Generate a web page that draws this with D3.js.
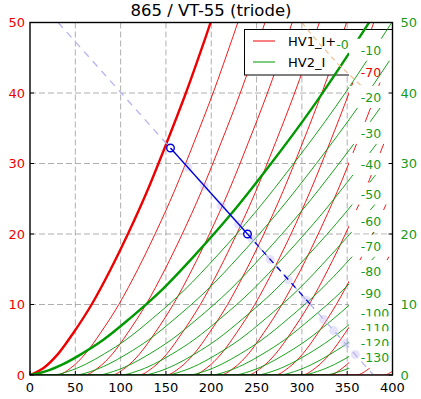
<!DOCTYPE html>
<html><head><meta charset="utf-8">
<script src="https://cdn.jsdelivr.net/npm/d3@7"></script>
<style>body{margin:0;background:#fff}svg{display:block;font-family:"DejaVu Sans",sans-serif}</style>
</head><body><svg id="c" width="421" height="399"></svg>
<script>
const title = "865 / VT-55 (triode)";
const xTicks = [0,50,100,150,200,250,300,350,400];
const yTicks = [0,10,20,30,40,50];
const legendNames = ["HV1_I+","HV2_I"];

// red family (HV1): plate voltage at each current level, one row per grid voltage
const redLevels = [0,1,3,6,10,15,20,26,33,40,48,56];
const redGrid = [0,-10,-20,-30,-40,-50,-60,-70,-80,-90,-100,-110,-120,-130];
const redV = [
  [0,15,31,48,68,89,108,129,151,172,194,215],
  [30,45,61,78,98,119,138,159,181,202,224,245],
  [60,75,91,108,128,149,168,189,211,232,254,275],
  [90,105,121,138,158,179,198,219,241,262,284,305],
  [120,135,151,168,188,209,228,249,271,292,314,335],
  [150,165,181,198,218,239,258,279,301,322,344,365],
  [180,195,211,228,248,269,288,309,331,352,374,395],
  [210,225,241,258,278,299,318,339,361,382,404,425],
  [240,255,271,288,308,329,348,369,391,412,434,455],
  [270,285,301,318,338,359,378,399,421,442,464,485],
  [300,315,331,348,368,389,408,429,451,472,494,515],
  [330,345,361,378,398,419,438,459,481,502,524,545],
  [360,375,391,408,428,449,468,489,511,532,554,575],
  [390,405,421,438,458,479,498,519,541,562,584,605]
];

// green family (HV2)
const greenLevels = [0,0.5,1.5,3,5,8,12,17,23,30,38,47,56];
const greenGrid = [0,-10,-20,-30,-40,-50,-60,-70,-80,-90,-100,-110,-120,-130];
const greenV = [
  [0,17,36,57,81,110,145,182,223,266,312,359,404],
  [25,42,61,82,106,135,170,207,248,291,337,384,429],
  [50,67,86,107,131,160,195,232,273,316,362,409,454],
  [75,92,111,132,156,185,220,257,298,341,387,434,479],
  [100,117,136,157,181,210,245,282,323,366,412,459,504],
  [125,142,161,182,206,235,270,307,348,391,437,484,529],
  [150,167,186,207,231,260,295,332,373,416,462,509,554],
  [175,192,211,232,256,285,320,357,398,441,487,534,579],
  [200,217,236,257,281,310,345,382,423,466,512,559,604],
  [225,242,261,282,306,335,370,407,448,491,537,584,629],
  [250,267,286,307,331,360,395,432,473,516,562,609,654],
  [275,292,311,332,356,385,420,457,498,541,587,634,679],
  [300,317,336,357,381,410,445,482,523,566,612,659,704],
  [325,342,361,382,406,435,470,507,548,591,637,684,729]
];

const greenLabels = ["-0","-10","-20","-30","-40","-50","-60","-70","-80","-90","-100","-110","-120","-130"];
const greenLabelV = [338,365,365,365,365,365,365,365,365,365,365,365,365,365];
const greenLabelI = [46.9,46.0,39.3,34.2,29.8,25.6,21.7,18.2,14.6,11.5,8.7,6.6,4.5,2.4];
const redLabels = ["-70"];
const redLabelV = [365];
const redLabelI = [42.9];

const loadSolid = [[155,32.2],[240,20]];
const loadDashed = [[240,20],[313,9.5]];
const loadGuide = [[31,50],[379,0]];
const guideMarks = [[174,29.5],[192,26.8],[211,24.0],[230,21.4],[245,19.3],[265,16.4],[285,13.5],[305,10.6],[324,7.9],[335,6.3],[348,4.5],[359,2.9]];
const dissipation = [[300,50],[310,48.4],[320,46.9],[330,45.5],[340,44.1],[350,42.9],[360,41.7],[370,40.5],[380,39.5],[390,38.5],[400,37.5]];

const RED = "#ee0000", GREEN = "#009900", GTEXT = "#1a9a1a", BLUE = "#0000dd";
const svg = d3.select("#c");
const L = 30, R = 392.5, T = 22.5, B = 375;
const x = d3.scaleLinear().domain([0,400]).range([L,R]);
const y = d3.scaleLinear().domain([0,50]).range([B,T]);

svg.append("defs").append("clipPath").attr("id","pc")
  .append("rect").attr("x",L).attr("y",T).attr("width",R-L).attr("height",B-T);

const line = d3.line().x(d=>x(d[0])).y(d=>y(d[1])).curve(d3.curveMonotoneX);
const lin = d3.line().x(d=>x(d[0])).y(d=>y(d[1]));

// grid
const grid = svg.append("g").attr("stroke","#9a9a9a").attr("stroke-width",0.8).attr("stroke-dasharray","6,3");
xTicks.slice(1,-1).forEach(t=>grid.append("line").attr("x1",x(t)).attr("x2",x(t)).attr("y1",T).attr("y2",B));
yTicks.slice(1,-1).forEach(t=>grid.append("line").attr("y1",y(t)).attr("y2",y(t)).attr("x1",L).attr("x2",R));

const plot = svg.append("g").attr("clip-path","url(#pc)");

function curvePts(V, levels){
  const pts = V.map((v,i)=>[v,levels[i]]);
  if (V[0] > 0) pts.unshift([0,0]);
  return pts;
}
// red curves (axis 1)
redV.forEach((V,i)=>{
  plot.append("path").attr("d",line(curvePts(V,redLevels))).attr("fill","none")
    .attr("stroke",RED).attr("stroke-width", i===0?2.4:0.9);
});

// legend (axis 1)
const lg = svg.append("g");
lg.append("rect").attr("x",244.5).attr("y",29.5).attr("width",148).attr("height",45.5).attr("fill","#fff").attr("stroke","#000").attr("stroke-width",1);
[RED,GREEN].forEach((c,i)=>{
  const yy = 41 + i*21;
  lg.append("line").attr("x1",253).attr("x2",275).attr("y1",yy).attr("y2",yy).attr("stroke",c).attr("stroke-width",1);
  lg.append("text").attr("x",288).attr("y",yy).attr("dy","0.36em").attr("font-size",13).attr("fill","#000").text(legendNames[i]);
});

// red labels
const plotR = svg.append("g").attr("clip-path","url(#pc)");
redLabels.forEach((t,i)=>{
  const g = plotR.append("g");
  g.append("rect").attr("x",349).attr("y",y(redLabelI[i])-12).attr("width",44).attr("height",22).attr("fill","#fff");
  g.append("text").attr("x",x(redLabelV[i])).attr("y",y(redLabelI[i])).attr("dy","0.35em")
    .attr("font-size",12.5).attr("fill",RED).text(t);
});

// green curves (axis 2, drawn over)
const plot2 = svg.append("g").attr("clip-path","url(#pc)");
greenV.forEach((V,i)=>{
  plot2.append("path").attr("d",line(curvePts(V,greenLevels))).attr("fill","none")
    .attr("stroke",GREEN).attr("stroke-width", i===0?2.4:0.9);
});
plot2.append("path").attr("d",lin(dissipation)).attr("fill","none").attr("stroke","#f2c08c")
  .attr("stroke-width",1.2).attr("stroke-dasharray","5,4");

// green labels with white boxes
greenLabels.forEach((t,i)=>{
  const g = plot2.append("g");
  const tx = g.append("text").attr("x",x(greenLabelV[i])).attr("y",y(greenLabelI[i])).attr("dy","0.35em")
    .attr("font-size",12.5).attr("fill",GTEXT).text(t);
  if (i===0) {
    const bb = tx.node().getBBox();
    g.insert("rect","text").attr("x",bb.x-1).attr("y",bb.y-1).attr("width",bb.width+2).attr("height",bb.height+2).attr("fill","#fff");
  } else {
    g.insert("rect","text").attr("x",349).attr("y",y(greenLabelI[i])-12).attr("width",44).attr("height",22).attr("fill","#fff");
  }
});

// load line guide and markers
plot2.append("path").attr("d",lin(loadGuide)).attr("fill","none").attr("stroke","#b4b4f0")
  .attr("stroke-width",1.3).attr("stroke-dasharray","7,6");
plot2.selectAll(".gm").data(guideMarks).enter().append("circle")
  .attr("cx",d=>x(d[0])).attr("cy",d=>y(d[1])).attr("r",4.5)
  .attr("fill","#b8b0f0").attr("fill-opacity",0.35);
plot2.append("path").attr("d",lin(loadSolid)).attr("fill","none").attr("stroke",BLUE).attr("stroke-width",1.3);
plot2.append("path").attr("d",lin(loadDashed)).attr("fill","none").attr("stroke",BLUE).attr("stroke-width",1.3).attr("stroke-dasharray","6,5");
plot2.selectAll(".lp").data(loadSolid).enter().append("circle")
  .attr("cx",d=>x(d[0])).attr("cy",d=>y(d[1])).attr("r",3.8)
  .attr("fill","none").attr("stroke",BLUE).attr("stroke-width",1.4);

// frame
svg.append("rect").attr("x",L).attr("y",T).attr("width",R-L).attr("height",B-T)
  .attr("fill","none").attr("stroke","#000").attr("stroke-width",1.4);

// ticks
const tk = svg.append("g").attr("stroke","#000").attr("stroke-width",1);
yTicks.forEach(t=>{
  tk.append("line").attr("x1",L).attr("x2",L+4).attr("y1",y(t)).attr("y2",y(t));
  tk.append("line").attr("x1",R-4).attr("x2",R).attr("y1",y(t)).attr("y2",y(t));
});
xTicks.forEach(t=>{
  tk.append("line").attr("x1",x(t)).attr("x2",x(t)).attr("y1",B).attr("y2",B-4);
});

// tick labels
yTicks.forEach(t=>{
  svg.append("text").attr("x",L-5).attr("y",y(t)).attr("dy","0.36em").attr("text-anchor","end")
    .attr("font-size",13).attr("fill",RED).text(t);
  svg.append("text").attr("x",R+8).attr("y",y(t)).attr("dy","0.36em").attr("text-anchor","start")
    .attr("font-size",13).attr("fill",GTEXT).text(t);
});
xTicks.forEach(t=>{
  svg.append("text").attr("x",x(t)).attr("y",392).attr("text-anchor","middle")
    .attr("font-size",13).attr("fill","#000").text(t);
});

svg.append("text").attr("x",211).attr("y",15.5).attr("text-anchor","middle")
  .attr("font-size",16.5).attr("fill","#000").text(title);
</script></body></html>
